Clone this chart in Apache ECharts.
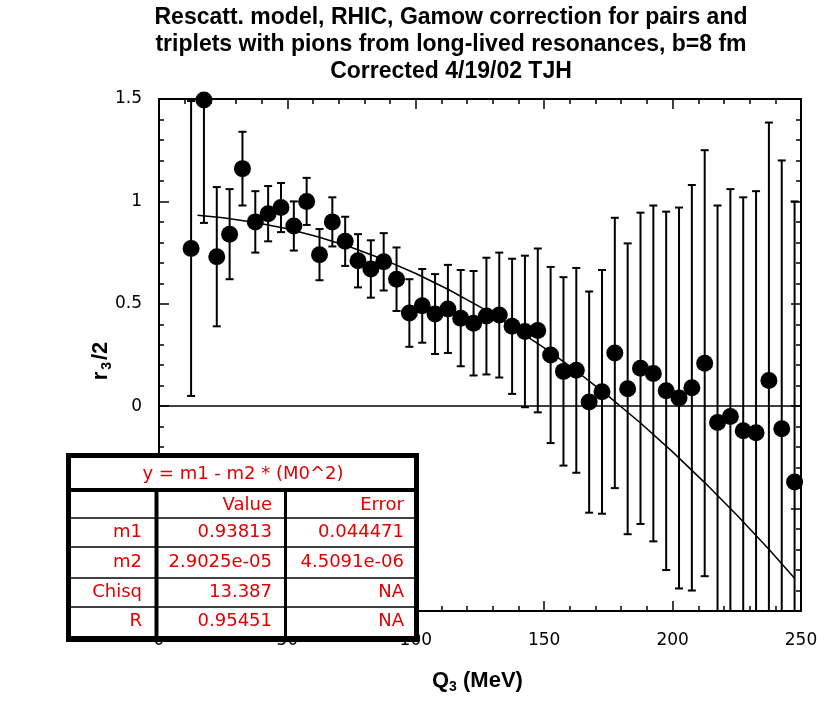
<!DOCTYPE html>
<html>
<head>
<meta charset="utf-8">
<script src="https://cdn.jsdelivr.net/npm/echarts@6/dist/echarts.min.js"></script>
<style>
html,body{margin:0;padding:0;background:#fff;}
#chart{width:824px;height:703px;}
</style>
</head>
<body>
<div id="chart"></div>
<script>
// ---- data ----
const titleLines = [
  "Rescatt. model, RHIC, Gamow correction for pairs and",
  "triplets with pions from long-lived resonances, b=8 fm",
  "Corrected 4/19/02 TJH"
];
const q3 = [12.5, 17.5, 22.5, 27.5, 32.5, 37.5, 42.5, 47.5, 52.5, 57.5,
            62.5, 67.5, 72.5, 77.5, 82.5, 87.5, 92.5, 97.5, 102.5, 107.5,
            112.5, 117.5, 122.5, 127.5, 132.5, 137.5, 142.5, 147.5, 152.5, 157.5,
            162.5, 167.5, 172.5, 177.5, 182.5, 187.5, 192.5, 197.5, 202.5, 207.5,
            212.5, 217.5, 222.5, 227.5, 232.5, 237.5, 242.5, 247.5];
const r3 = [0.77, 1.495, 0.73, 0.84, 1.16, 0.90, 0.94, 0.97, 0.88, 1.00,
            0.74, 0.90, 0.805, 0.71, 0.67, 0.705, 0.62, 0.455, 0.49, 0.45,
            0.475, 0.43, 0.405, 0.44, 0.445, 0.39, 0.365, 0.37, 0.25, 0.17,
            0.175, 0.02, 0.07, 0.26, 0.085, 0.185, 0.16, 0.075, 0.04, 0.09,
            0.21, -0.08, -0.05, -0.12, -0.13, 0.125, -0.11, -0.37];
const r3err = [0.72, 0.60, 0.34, 0.22, 0.18, 0.15, 0.135, 0.12, 0.12, 0.115,
               0.125, 0.12, 0.12, 0.13, 0.14, 0.14, 0.155, 0.165, 0.18, 0.195,
               0.215, 0.235, 0.255, 0.285, 0.305, 0.33, 0.37, 0.40, 0.43, 0.46,
               0.50, 0.54, 0.595, 0.66, 0.71, 0.76, 0.82, 0.875, 0.93, 0.99,
               1.04, 1.06, 1.11, 1.14, 1.18, 1.26, 1.31, 1.37];
// fit curve as drawn
const fitQ = [15, 25, 37.5, 50, 62.5, 75, 87.5, 100, 112.5, 125, 137.5, 150,
              162.5, 175, 187.5, 200, 212.5, 225, 237.5, 247.5];
const fitR = [0.932, 0.920, 0.897, 0.866, 0.825, 0.775, 0.716, 0.648, 0.571, 0.485, 0.389, 0.285,
              0.172, 0.049, -0.082, -0.223, -0.373, -0.531, -0.699, -0.840];
const xTicks = {min: 0, max: 250, interval: 50};
const yTicks = {min: -1, max: 1.5, interval: 0.5};
const fitTitle = "y = m1 - m2 * (M0^2)";
const tableHeader = ["", "Value", "Error"];
const tableRows = [
  ["m1", "0.93813", "0.044471"],
  ["m2", "2.9025e-05", "4.5091e-06"],
  ["Chisq", "13.387", "NA"],
  ["R", "0.95451", "NA"]
];

// ---- chart ----
const chart = echarts.init(document.getElementById('chart'), null, {renderer: 'canvas'});
const pts = q3.map((q, i) => [q, r3[i]]);
const bars = q3.map((q, i) => [q, r3[i], r3err[i]]);
const fitPts = fitQ.map((q, i) => [q, fitR[i]]);

const RED = '#e00000';
const tickFont = 'DejaVu Sans';
function axisCommon(showLabel) {
  return {
    axisLine: {show: true, onZero: false, lineStyle: {color: '#000', width: 2}},
    axisTick: {show: true, inside: true, length: 10, lineStyle: {color: '#000', width: 1.5}},
    minorTick: {show: true, splitNumber: 5, length: 5, lineStyle: {color: '#000', width: 1.5}},
    splitLine: {show: false},
    axisLabel: {show: showLabel, color: '#000', fontFamily: tickFont, fontSize: 17}
  };
}
const xBottom = Object.assign({type: 'value', position: 'bottom'}, xTicks, axisCommon(true));
xBottom.axisLabel.margin = 21;
const xTop = Object.assign({type: 'value', position: 'top'}, xTicks, axisCommon(false));
const yLeft = Object.assign({type: 'value', position: 'left'}, yTicks, axisCommon(true));
yLeft.axisLabel.margin = 17;
const yRight = Object.assign({type: 'value', position: 'right'}, yTicks, axisCommon(false));

// table graphic
const T = {x0: 71, y0: 458, x1: 414, y1: 636};
const rowLines = [518, 547, 578, 607];
const rowCenters = [505, 532, 562, 592, 621];
const colRight = [142, 272, 404];
const g = [];
g.push({type: 'rect', z: 100, shape: {x: 66, y: 453, width: 353, height: 189}, style: {fill: '#000'}});
g.push({type: 'rect', z: 101, shape: {x: T.x0, y: T.y0, width: T.x1 - T.x0, height: T.y1 - T.y0}, style: {fill: '#fff'}});
g.push({type: 'rect', z: 102, shape: {x: T.x0, y: 488, width: T.x1 - T.x0, height: 4}, style: {fill: '#000'}});
rowLines.forEach(y => g.push({type: 'line', z: 102, shape: {x1: T.x0, y1: y, x2: T.x1, y2: y}, style: {stroke: '#000', lineWidth: 1.5}}));
g.push({type: 'rect', z: 102, shape: {x: 154.5, y: 490, width: 4, height: T.y1 - 490}, style: {fill: '#000'}});
g.push({type: 'rect', z: 102, shape: {x: 284, y: 490, width: 3, height: T.y1 - 490}, style: {fill: '#000'}});
const cellStyle = (txt, x, y, align) => ({type: 'text', z: 103, x: x, y: y,
  style: {text: txt, fill: RED, font: '18px "DejaVu Sans"', textAlign: align, textVerticalAlign: 'middle'}});
g.push(cellStyle(fitTitle, 243, 474, 'center'));
[tableHeader].concat(tableRows).forEach((row, ri) => {
  row.forEach((c, ci) => { if (c) g.push(cellStyle(c, colRight[ci], rowCenters[ri], 'right')); });
});
// titles
titleLines.forEach((t, i) => g.push({type: 'text', z: 50, x: 451, y: [18, 45, 72][i],
  style: {text: t, fill: '#000', font: 'bold 23px "Liberation Sans"', textAlign: 'center', textVerticalAlign: 'middle'}}));
// axis titles
g.push({type: 'text', z: 50, x: 432, y: 681,
  style: {text: 'Q{s|3} (MeV)', fill: '#000', font: 'bold 22px "Liberation Sans"', textVerticalAlign: 'middle',
    rich: {s: {fontSize: 14, fontWeight: 'bold', fontFamily: 'Liberation Sans', padding: [13, 0, 0, 0]}}}});
g.push({type: 'text', z: 50, x: 101, y: 361, rotation: Math.PI / 2,
  style: {text: 'r{s|3}/2', fill: '#000', font: 'bold 22px "Liberation Sans"', textAlign: 'center', textVerticalAlign: 'middle',
    rich: {s: {fontSize: 14, fontWeight: 'bold', fontFamily: 'Liberation Sans', padding: [13, 2, 0, 2]}}}});

chart.setOption({
  animation: false,
  backgroundColor: '#fff',
  grid: {left: 159, right: 23, top: 99, bottom: 92, containLabel: false},
  xAxis: [xBottom, xTop],
  yAxis: [yLeft, yRight],
  series: [
    {
      type: 'line', data: fitPts, showSymbol: false, symbol: 'none', z: 2,
      lineStyle: {color: '#000', width: 1.5}, silent: true,
      markLine: {silent: true, symbol: 'none', label: {show: false},
        lineStyle: {color: '#000', width: 1.5, type: 'solid'}, data: [{yAxis: 0}]}
    },
    {
      type: 'custom', data: bars, clip: true, z: 3,
      encode: {x: 0, y: 1},
      renderItem: function (params, api) {
        const x = api.value(0), y = api.value(1), e = api.value(2);
        const top = api.coord([x, y + e]);
        const bot = api.coord([x, y - e]);
        const hw = 4;
        const st = {stroke: '#000', lineWidth: 2};
        return {type: 'group', children: [
          {type: 'line', shape: {x1: top[0], y1: top[1], x2: bot[0], y2: bot[1]}, style: st},
          {type: 'line', shape: {x1: top[0] - hw, y1: top[1], x2: top[0] + hw, y2: top[1]}, style: st},
          {type: 'line', shape: {x1: bot[0] - hw, y1: bot[1], x2: bot[0] + hw, y2: bot[1]}, style: st}
        ]};
      }
    },
    {
      type: 'scatter', data: pts, symbol: 'circle', symbolSize: 17, z: 4,
      itemStyle: {color: '#000', opacity: 1}, clip: false
    }
  ],
  graphic: g
});
</script>
</body>
</html>
